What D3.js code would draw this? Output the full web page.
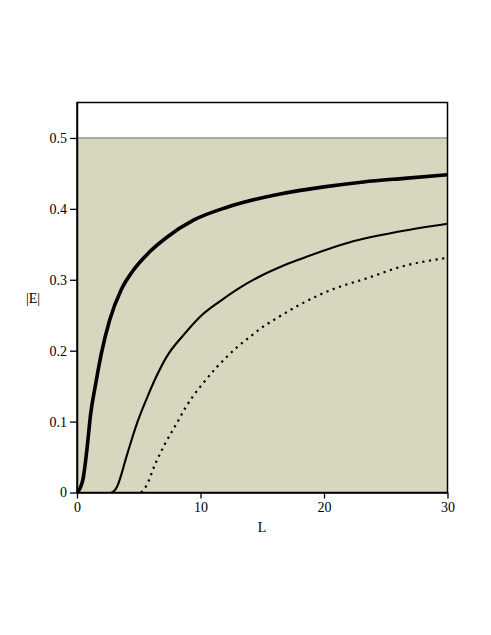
<!DOCTYPE html>
<html><head><meta charset="utf-8">
<script src="https://cdn.jsdelivr.net/npm/d3@7"></script>
<style>body{margin:0;background:#fff}svg{display:block}text{font-family:"Liberation Serif","Times New Roman",serif}</style>
</head><body>
<svg id="c" width="491" height="635"></svg>
<script>
const xTicks = [0, 10, 20, 30];
const yTicks = [0, 0.1, 0.2, 0.3, 0.4, 0.5];
const bandLimit = 0.5;
const thickL = [0, 0.25, 0.5, 0.8, 1.1, 1.5, 1.97, 2.64, 3.58, 4.5, 5.8, 7.28, 9.43, 12.1, 14.83, 16.45, 20, 23.2, 26.5, 30];
const thickE = [0, 0.006, 0.02, 0.06, 0.11, 0.152, 0.196, 0.243, 0.286, 0.312, 0.338, 0.360, 0.384, 0.402, 0.415, 0.421, 0.431, 0.438, 0.443, 0.448];
const midL = [2.8, 3.0, 3.24, 3.6, 3.91, 4.4, 4.85, 5.66, 6.33, 7.28, 8.62, 9.97, 11.6, 13.2, 14.83, 16.45, 18.06, 22.1, 26.1, 30];
const midE = [0, 0.002, 0.008, 0.026, 0.045, 0.073, 0.097, 0.133, 0.16, 0.192, 0.222, 0.248, 0.270, 0.289, 0.305, 0.318, 0.329, 0.353, 0.368, 0.379];
const dotL = [5.18, 5.6, 6.33, 7.14, 8.09, 8.76, 9.4, 10.11, 11.33, 12.14, 13.07, 14.02, 15.0, 16.0, 18.06, 20.76, 23.45, 26.16, 30];
const dotE = [0, 0.009, 0.04, 0.069, 0.098, 0.119, 0.136, 0.152, 0.177, 0.1915, 0.2066, 0.2198, 0.233, 0.244, 0.265, 0.287, 0.302, 0.318, 0.331];

const svg = d3.select("#c");
const x = d3.scaleLinear().domain([0, 30]).range([77, 447.5]);
const y = d3.scaleLinear().domain([0, 0.55]).range([492.5, 102.5]);
const font = "'Liberation Serif', 'Times New Roman', serif";

svg.append("rect").attr("x", x(0)).attr("y", y(bandLimit))
  .attr("width", x(30) - x(0)).attr("height", y(0) - y(bandLimit))
  .attr("fill", "#d7d7bf");
svg.append("line").attr("x1", x(0)).attr("x2", x(30))
  .attr("y1", y(bandLimit)).attr("y2", y(bandLimit))
  .attr("stroke", "#6e6e6e").attr("stroke-width", 1);

const line = d3.line().x(d => x(d[0])).y(d => y(d[1])).curve(d3.curveMonotoneX);
const zip = (a, b) => a.map((v, i) => [v, b[i]]);

svg.append("path").attr("d", line(zip(thickL, thickE))).attr("fill", "none")
  .attr("stroke", "#000").attr("stroke-width", 3.6).attr("stroke-linejoin", "round");
svg.append("path").attr("d", line(zip(midL, midE))).attr("fill", "none")
  .attr("stroke", "#000").attr("stroke-width", 2.1).attr("stroke-linejoin", "round");
svg.append("path").attr("d", line(zip(dotL, dotE))).attr("fill", "none")
  .attr("stroke", "#000").attr("stroke-width", 2.2).attr("stroke-dasharray", "2.2 4.5");

svg.append("rect").attr("x", x(0)).attr("y", y(0.55))
  .attr("width", x(30) - x(0)).attr("height", y(0) - y(0.55))
  .attr("fill", "none").attr("stroke", "#000").attr("stroke-width", 1.5);

const xAxis = svg.append("g").attr("transform", `translate(0,${y(0)})`)
  .call(d3.axisBottom(x).tickValues(xTicks).tickSizeInner(6).tickSizeOuter(0).tickPadding(4).tickFormat(d3.format("d")));
const yAxis = svg.append("g").attr("transform", `translate(${x(0)},0)`)
  .call(d3.axisLeft(y).tickValues(yTicks).tickSizeInner(7).tickSizeOuter(0).tickPadding(3).tickFormat(d => d === 0 ? "0" : d3.format(".1f")(d)));
[xAxis, yAxis].forEach(g => {
  g.attr("font-family", font).attr("font-size", 14);
  g.select(".domain").attr("stroke", "#000").attr("stroke-width", 1.5);
  g.selectAll(".tick line").attr("stroke", "#000").attr("stroke-width", 1.3);
  g.selectAll("text").style("font-family", font).attr("font-size", 14).attr("fill", "#000");
});

svg.append("text").attr("x", 262).attr("y", 532).attr("text-anchor", "middle")
  .style("font-family", font).attr("font-size", 14).text("L");
svg.append("text").attr("x", 33).attr("y", 303).attr("text-anchor", "middle")
  .style("font-family", font).attr("font-size", 14).text("|E|");
</script>
</body></html>
